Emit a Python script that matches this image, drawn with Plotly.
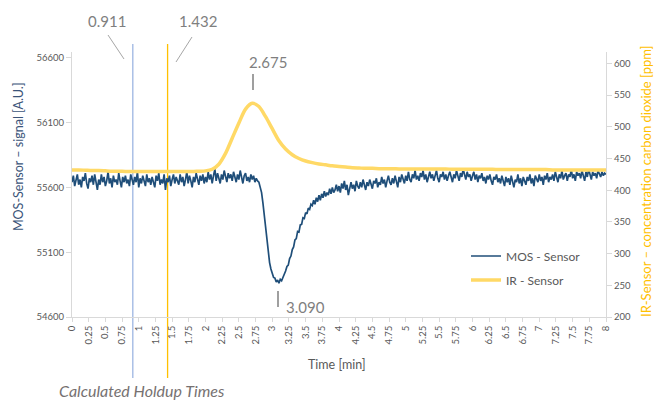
import plotly.graph_objects as go

# ---------------- data ----------------
mos_t0, mos_dt = 0.0, 0.02          # MOS sample grid (min)
mos_signal = [
    55640, 55690, 55610, 55670, 55700, 55620, 55660, 55600, 55680, 55650, 55710, 55630, 55590, 55670, 55640, 55690, 55620, 55700, 55650, 55580,
    55660, 55620, 55700, 55640, 55680, 55610, 55650, 55720, 55630, 55670, 55600, 55690, 55640, 55660, 55620, 55710, 55650, 55600, 55680, 55640,
    55690, 55630, 55660, 55610, 55700, 55650, 55620, 55680, 55640, 55720, 55600, 55670, 55630, 55690, 55650, 55610, 55700, 55640, 55670, 55620,
    55680, 55640, 55600, 55690, 55650, 55710, 55620, 55660, 55630, 55700, 55580, 55670, 55640, 55690, 55610, 55660, 55700, 55630, 55680, 55650,
    55620, 55700, 55640, 55680, 55610, 55660, 55720, 55630, 55690, 55650, 55600, 55680, 55640, 55710, 55660, 55620, 55690, 55650, 55700, 55630,
    55680, 55640, 55720, 55660, 55700, 55630, 55690, 55740, 55650, 55710, 55670, 55630, 55700, 55660, 55730, 55680, 55640, 55710, 55670, 55700,
    55650, 55720, 55680, 55640, 55700, 55660, 55730, 55670, 55630, 55690, 55710, 55650, 55680, 55640, 55700, 55660, 55690, 55640, 55670, 55650,
    55640, 55600, 55560, 55480, 55380, 55280, 55180, 55090, 55020, 54970, 54940, 54905, 54900, 54870, 54885, 54860, 54890, 54880, 54905, 54925,
    54955, 54990, 55000, 55050, 55070, 55120, 55140, 55195, 55205, 55260, 55255, 55310, 55315, 55365, 55360, 55405, 55395, 55440, 55430, 55470,
    55460, 55500, 55470, 55520, 55490, 55540, 55500, 55550, 55520, 55570, 55530, 55560, 55540, 55590, 55550, 55600, 55560, 55580, 55620, 55570,
    55610, 55560, 55630, 55590, 55650, 55580, 55620, 55540, 55600, 55640, 55590, 55620, 55570, 55650, 55610, 55590, 55640, 55600, 55660, 55610,
    55580, 55640, 55610, 55660, 55620, 55590, 55650, 55630, 55670, 55600, 55640, 55620, 55680, 55630, 55660, 55600, 55650, 55690, 55640, 55620,
    55670, 55630, 55690, 55650, 55600, 55680, 55640, 55700, 55660, 55630, 55690, 55650, 55720, 55660, 55640, 55700, 55670, 55730, 55660, 55690,
    55650, 55710, 55680, 55730, 55660, 55700, 55640, 55690, 55720, 55670, 55700, 55650, 55690, 55730, 55670, 55640, 55700, 55680, 55720, 55660,
    55700, 55650, 55690, 55720, 55680, 55640, 55700, 55670, 55730, 55690, 55650, 55710, 55680, 55740, 55690, 55660, 55720, 55680, 55700, 55650,
    55690, 55720, 55660, 55700, 55640, 55690, 55670, 55710, 55650, 55680, 55630, 55690, 55660, 55700, 55650, 55620, 55680, 55660, 55700, 55640,
    55670, 55630, 55690, 55650, 55610, 55680, 55640, 55670, 55620, 55690, 55650, 55600, 55660, 55640, 55700, 55630, 55670, 55610, 55680, 55650,
    55620, 55680, 55650, 55700, 55630, 55670, 55610, 55690, 55660, 55640, 55700, 55650, 55680, 55620, 55690, 55660, 55710, 55640, 55680, 55660,
    55700, 55650, 55720, 55680, 55640, 55700, 55670, 55730, 55660, 55690, 55710, 55650, 55700, 55680, 55740, 55670, 55700, 55650, 55720, 55690,
    55710, 55670, 55730, 55690, 55650, 55720, 55680, 55740, 55700, 55660, 55720, 55690, 55710, 55670, 55730, 55700, 55680, 55720, 55690, 55710,
    55700,
]

ir_t0, ir_dt = 0.0, 0.1             # IR sample grid (min)
ir_co2 = [
    432, 432, 431.5, 431, 431, 430.5, 430, 430, 429.5, 429.5,
    429.5, 429.5, 429.5, 429.5, 429.5, 429.5, 429.5, 429.5, 429.5, 430,
    430.5, 433, 441, 458, 482, 506, 528, 537, 532, 516,
    497, 478, 465, 456, 450, 446, 443.5, 441.5, 440, 438.5,
    437.5, 436.5, 435.5, 435, 434.5, 434.5, 434, 434, 434, 433.5,
    433.5, 433.5, 433.5, 433.5, 433.5, 433.5, 433.5, 433, 433, 433,
    433, 433, 433, 433, 432.5, 432.5, 432.5, 432.5, 432.5, 432.5,
    432.5, 432.5, 432, 432, 432, 432, 432, 432, 432, 432,
    432,
]

x_tick_vals = [0, 0.25, 0.5, 0.75, 1, 1.25, 1.5, 1.75, 2, 2.25, 2.5, 2.75, 3, 3.25, 3.5, 3.75,
               4, 4.25, 4.5, 4.75, 5, 5.25, 5.5, 5.75, 6, 6.25, 6.5, 6.75, 7, 7.25, 7.5, 7.75, 8]
x_tick_text = ["0", "0.25", "0.5", "0.75", "1", "1.25", "1.5", "1.75", "2", "2.25", "2.5", "2.75",
               "3", "3.25", "3.5", "3.75", "4", "4.25", "4.5", "4.75", "5", "5.25", "5.5", "5.75",
               "6", "6.25", "6.5", "6.75", "7", "7.25", "7.5", "7.75", "8"]
mos_ticks = [54600, 55100, 55600, 56100, 56600]
mos_tick_text = ["54600", "55100", "55600", "56100", "56600"]
ir_ticks = [200, 250, 300, 350, 400, 450, 500, 550, 600]

holdup_times = [0.911, 1.432]
holdup_labels = ["0.911", "1.432"]
peak_label = "2.675"
trough_label = "3.090"

# ---------------- layout helpers ----------------
W, H = 654, 401
L, R, T, B = 72, 48, 52, 84
PW, PH = W - L - R, H - T - B


def px(x):
    return (x - L) / PW


def py(y):
    return (H - B - y) / PH


FONT = "Lato, 'Open Sans', sans-serif"
GRAY = "#595959"
AXIS = "#d9d9d9"
MOS_C = "#1f4e79"
IR_C = "#ffd966"

fig = go.Figure()
fig.add_trace(go.Scatter(x0=mos_t0, dx=mos_dt, y=mos_signal, mode="lines", name="MOS - Sensor",
                         line=dict(color=MOS_C, width=1.7), legend="legend", showlegend=True))
fig.add_trace(go.Scatter(x0=ir_t0, dx=ir_dt, y=ir_co2, mode="lines", name="IR - Sensor",
                         line=dict(color=IR_C, width=3.5, shape="spline", smoothing=0.8),
                         yaxis="y2", legend="legend2", showlegend=True))

# holdup time vertical lines
for t, c in zip(holdup_times, ["#9db6e2", "#ffc000"]):
    fig.add_shape(type="line", xref="x", yref="paper", x0=t, x1=t, y0=py(378), y1=py(44),
                  line=dict(color=c, width=1.3), layer="below")

shape_line = dict(color="#a6a6a6", width=1)
tick_line = dict(color="#7f7f7f", width=1.5)
for (x0, y0, x1, y1), ln in [((108, 35, 124, 59), shape_line),
                             ((192, 37, 176, 62), shape_line),
                             ((253, 74, 253, 90), tick_line),
                             ((278, 291, 278, 307), tick_line)]:
    fig.add_shape(type="line", xref="paper", yref="paper", x0=px(x0), y0=py(y0), x1=px(x1), y1=py(y1),
                  line=ln)

ann = []
label_font = dict(family=FONT, size=15, color="#7f7f7f")
for txt, (x, y) in zip(holdup_labels + [peak_label, trough_label],
                       [(107, 21), (198, 21), (268, 62), (305, 307)]):
    ann.append(dict(text=txt, x=px(x), y=py(y), xref="paper", yref="paper", showarrow=False,
                    xanchor="center", yanchor="middle", font=label_font))
ann.append(dict(text="Time [min]", x=px(337), y=py(364), xref="paper", yref="paper", showarrow=False,
                xanchor="center", yanchor="middle", font=dict(family=FONT, size=12.5, color=GRAY)))
ann.append(dict(text="MOS-Sensor – signal [A.U.]", x=px(18), y=py(157), xref="paper", yref="paper",
                showarrow=False, textangle=-90, xanchor="center", yanchor="middle",
                font=dict(family=FONT, size=12.5, color="#3b5479")))
ann.append(dict(text="IR-Sensor – concentration carbon dioxide [ppm]", x=px(646), y=py(181),
                xref="paper", yref="paper", showarrow=False, textangle=-90, xanchor="center",
                yanchor="middle", font=dict(family=FONT, size=13, color="#ffc000")))
ann.append(dict(text="Calculated Holdup Times", x=px(142), y=py(390), xref="paper", yref="paper",
                showarrow=False, xanchor="center", yanchor="middle",
                font=dict(family=FONT, size=16, color="#767171", style="italic")))

tickfont = dict(family=FONT, size=9.5, color=GRAY)
fig.update_layout(
    width=W, height=H,
    margin=dict(l=L, r=R, t=T, b=B, autoexpand=False),
    paper_bgcolor="white", plot_bgcolor="white",
    font=dict(family=FONT, color=GRAY),
    showlegend=True,
    xaxis=dict(range=[0, 8], tickvals=x_tick_vals, ticktext=x_tick_text, tickangle=-90,
               tickfont=tickfont, showline=True, linecolor=AXIS, linewidth=1, ticks="outside",
               ticklen=4, tickcolor=AXIS, showgrid=False, zeroline=False),
    yaxis=dict(range=[54600, 56644], tickvals=mos_ticks, ticktext=mos_tick_text, tickfont=tickfont,
               showline=True, linecolor=AXIS, ticks="outside", ticklen=5, tickcolor=AXIS,
               showgrid=False, zeroline=False),
    yaxis2=dict(range=[200, 618], tickvals=ir_ticks, overlaying="y", side="right", tickfont=tickfont,
                showline=True, linecolor=AXIS, ticks="outside", ticklen=5, tickcolor=AXIS,
                showgrid=False, zeroline=False),
    legend=dict(x=px(466), y=py(256), xanchor="left", yanchor="middle", bgcolor="rgba(0,0,0,0)",
                font=dict(family=FONT, size=12, color=GRAY), itemwidth=30),
    legend2=dict(x=px(466), y=py(280), xanchor="left", yanchor="middle", bgcolor="rgba(0,0,0,0)",
                 font=dict(family=FONT, size=12, color=GRAY), itemwidth=30),
    annotations=ann,
)

fig.write_html("out.html", config={"displayModeBar": False},
               post_script="document.body.style.margin='0';document.body.style.overflow='hidden';")
